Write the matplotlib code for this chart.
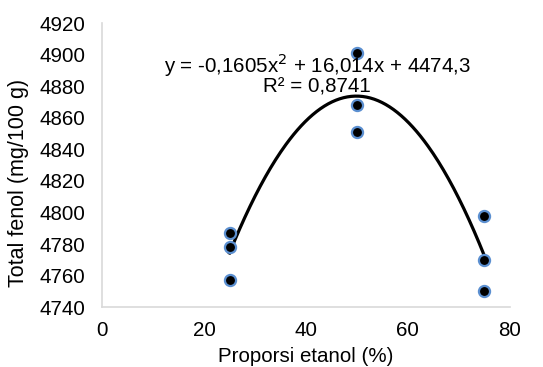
import numpy as np
import matplotlib
matplotlib.use("Agg")
import matplotlib.pyplot as plt

plt.rcParams['font.family'] = ['Liberation Sans', 'DejaVu Sans']

x_vals = [25, 25, 25, 50, 50, 50, 75, 75, 75]
y_vals = [4787, 4778, 4757, 4901, 4868, 4851, 4798, 4770, 4750]
coef = [-0.1605, 16.014, 4474.3]
eq_text = "y = -0,1605x$^2$ + 16,014x + 4474,3\nR² = 0,8741"
xticks = [0, 20, 40, 60, 80]
yticks = list(range(4740, 4921, 20))

fig = plt.figure(figsize=(5.43, 3.67), dpi=100)
ax = fig.add_axes([0.188, 0.163, 0.751, 0.774])

xs = np.linspace(25, 75, 200)
ax.plot(xs, np.polyval(coef, xs), color='black', lw=2.3, zorder=2)
ax.plot(x_vals, y_vals, 'o', ms=8, mfc='black', mec='#5b8fd0', mew=1.6, ls='none', zorder=3)

ax.set_xlim(0, 80)
ax.set_ylim(4740, 4920)
ax.set_xticks(xticks)
ax.set_yticks(yticks)
ax.tick_params(axis='y', length=0, labelsize=14.8, pad=12)
ax.tick_params(axis='x', length=0, labelsize=14.8, pad=10)
for s in ['top', 'right']:
    ax.spines[s].set_visible(False)
for s in ['left', 'bottom']:
    ax.spines[s].set_color('#d9d9d9')
    ax.spines[s].set_linewidth(1.2)

ax.text(42.2, 4888, eq_text, ha='center', va='center', fontsize=14.8, linespacing=0.92)
ax.set_xlabel('Proporsi etanol (%)', fontsize=14.8, labelpad=5)
ax.set_ylabel('Total fenol (mg/100 g)', fontsize=15.5)
ax.yaxis.set_label_coords(-0.178, 0.437)

fig.savefig('out.png', dpi=100)
